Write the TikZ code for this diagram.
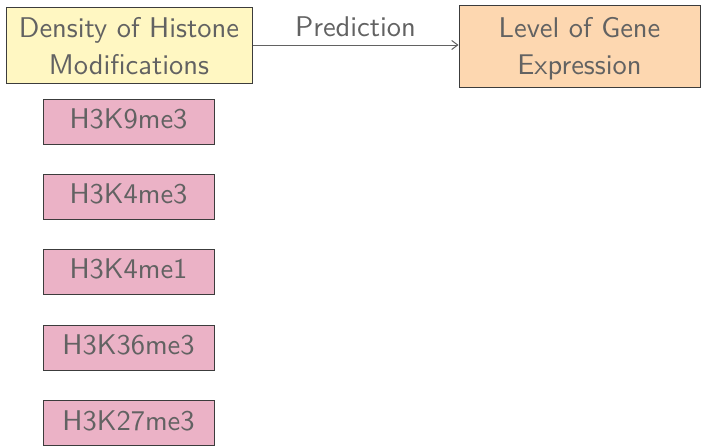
\documentclass[tikz,border=0pt]{standalone}
\usepackage{graphicx}
\usetikzlibrary{arrows.meta}
\renewcommand{\familydefault}{\sfdefault}
\definecolor{txtgray}{HTML}{626262}
\definecolor{boxline}{HTML}{3C3C3C}
\definecolor{yel}{HTML}{FFF7C2}
\definecolor{ora}{HTML}{FDD7B0}
\definecolor{pnk}{HTML}{EBB2C6}
\newcommand{\bigtxt}[1]{\scalebox{2.85}{\fontsize{10}{13}\selectfont\begin{tabular}{@{}c@{}}#1\end{tabular}}}
\newcommand{\lowtxt}[1]{\raisebox{-3pt}[\height][\depth]{\bigtxt{#1}}}
\begin{document}
\begin{tikzpicture}[x=1pt,y=-1pt,
  base/.style={draw=boxline, line width=1pt, text=txtgray, align=center, inner sep=0pt},
  bigbox/.style={base, minimum height=76pt},
  markbox/.style={base, fill=pnk, minimum width=171pt, minimum height=45pt}]
\useasboundingbox (0,0) rectangle (701,445);
\node[bigbox, fill=yel, minimum width=246pt] (hm) at (129,45.5) {\lowtxt{Density of Histone\\Modifications}};
\node[bigbox, fill=ora, minimum width=241pt, minimum height=82pt] (ge) at (579.5,46) {\lowtxt{Level of Gene\\Expression}};
\draw[draw=txtgray, line width=1pt, -{Straight Barb[length=6pt,width=9pt]}] (hm.east |- 0,45) -- node[above=-3pt, text=txtgray, inner sep=0pt] (pl) {\bigtxt{Prediction}} (ge.west |- 0,45);
\node[markbox] (m1) at (128.5,121.5) {\bigtxt{H3K9me3}};
\node[markbox] (m2) at (128.5,196.5) {\bigtxt{H3K4me3}};
\node[markbox] (m3) at (128.5,271.5) {\bigtxt{H3K4me1}};
\node[markbox] (m4) at (128.5,347.5) {\bigtxt{H3K36me3}};
\node[markbox] (m5) at (128.5,423) {\bigtxt{H3K27me3}};
\end{tikzpicture}
\end{document}
